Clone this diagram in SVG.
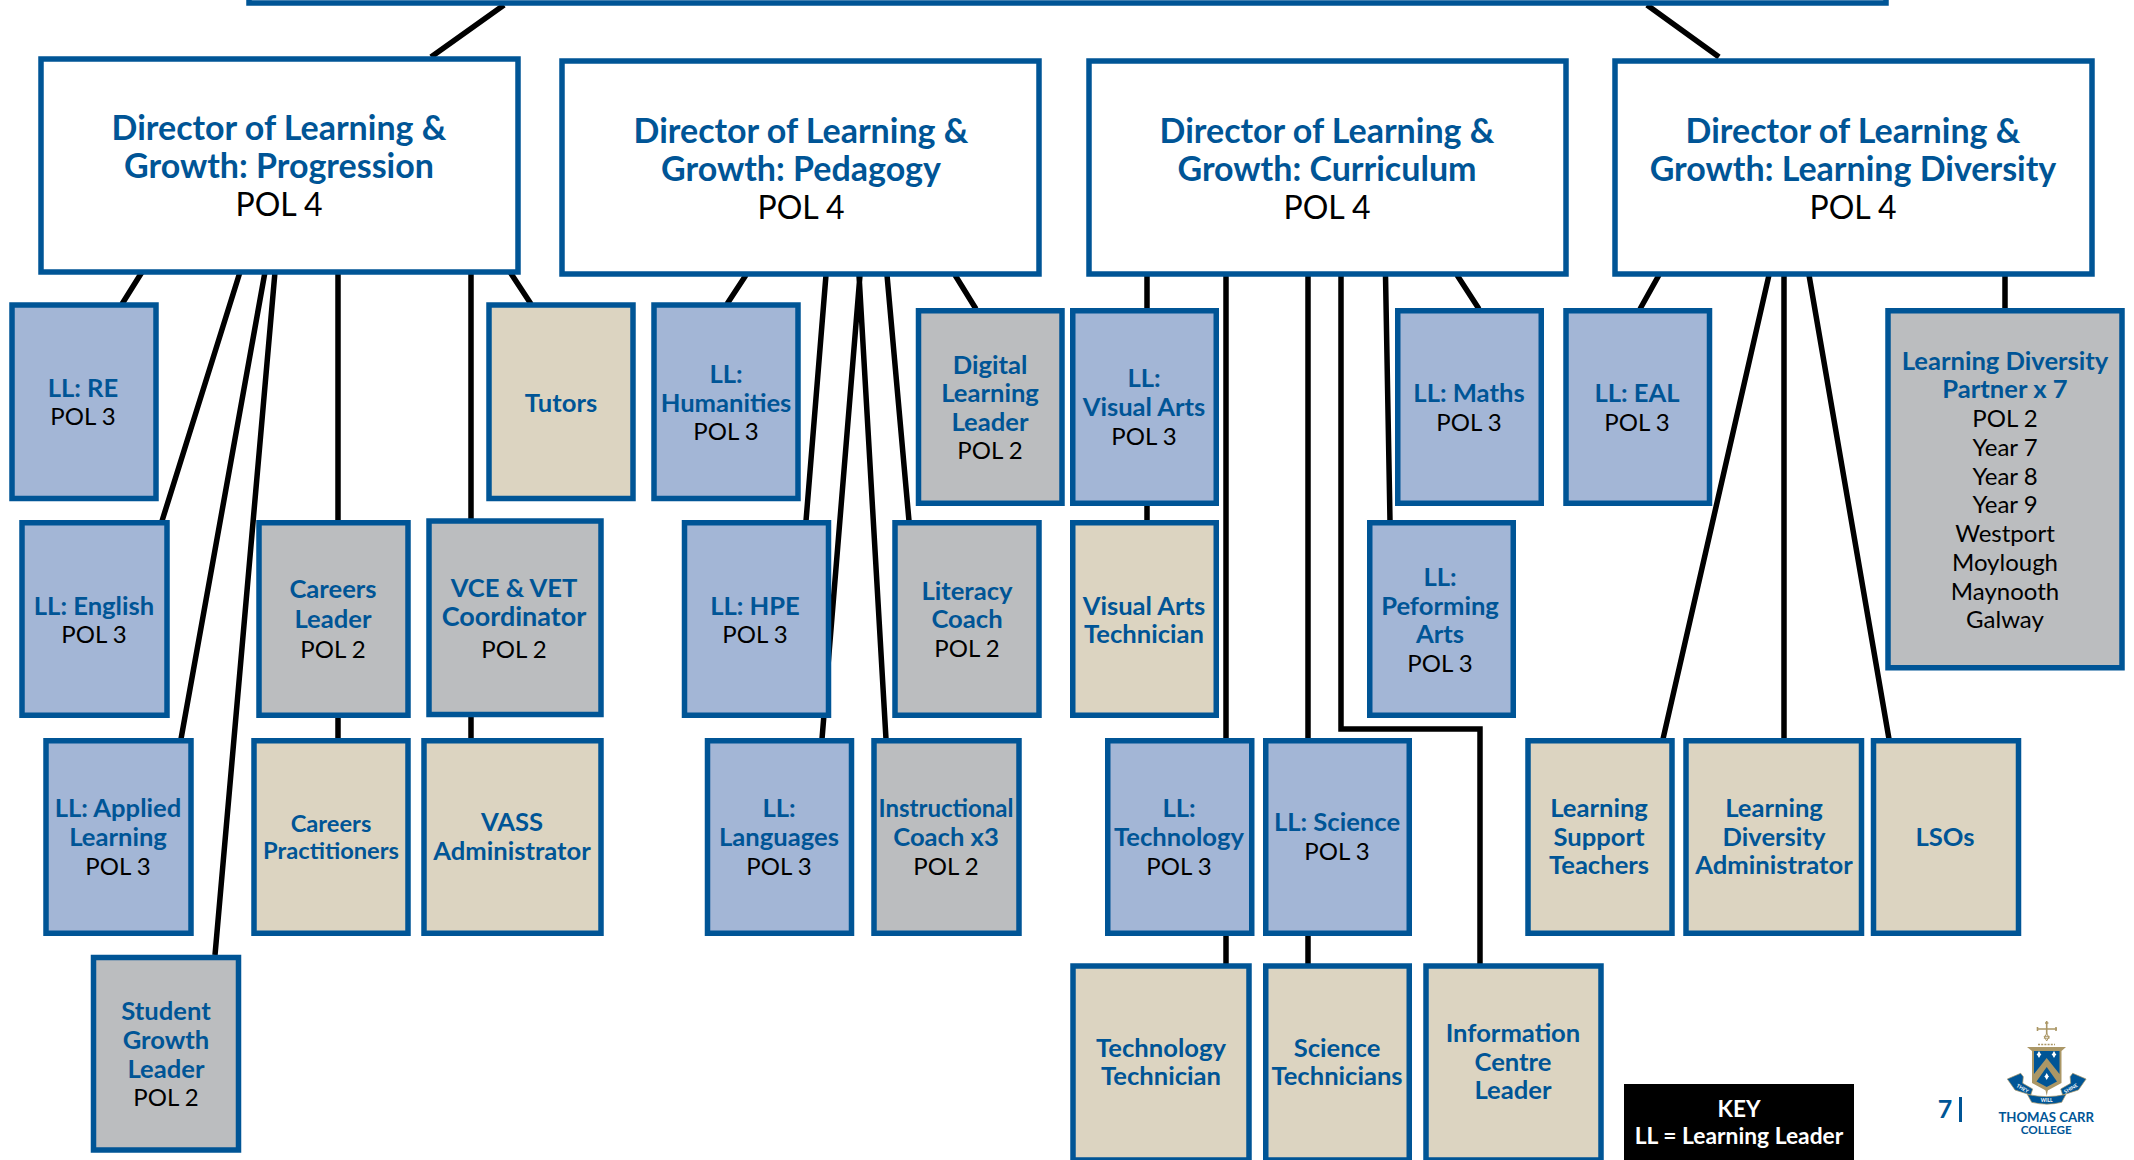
<svg xmlns="http://www.w3.org/2000/svg" width="2134" height="1160" viewBox="0 0 2134 1160">
<style>
text{font-family:Lato,"Noto Sans",sans-serif;text-anchor:middle}
.box{stroke:#005596;stroke-width:5.5}
.w{fill:#fff}.b{fill:#a3b6d6}.t{fill:#dcd4c1}.g{fill:#bbbdbf}
.h{fill:#005596;font-weight:700;font-size:25.6px}
.s{fill:#000;font-size:24px}
.H{fill:#005596;font-weight:700;font-size:34px}
.S{fill:#000;font-size:32px}
.c{fill:none;stroke:#000;stroke-width:5.5}
.gold{fill:#ab9766}
.blue{fill:#005596}
.star{fill:#fff}
</style>
<rect width="2134" height="1160" fill="#fff"/>
<g id="connectors" class="c">
<path d="M504 5L431 57M1647 5L1719 57"/>
<path d="M142 272L122 304M240 272L162 521M265 272L181 739M275 272L215 955M338 272V739M471 272V739M510 272L531 304"/>
<path d="M746 275L727 304M826 275L806 521M860 275L822 739M859 275L886 739M887 275L909 521M955 275L976 309"/>
<path d="M1147 275V521M1226 275V964M1308 275V964M1341 275V729H1480V964M1385.500 275L1390 521M1457 275L1479 309"/>
<path d="M1659 275L1640 309M1769 275L1663 739M1784 275V739M1809 275L1889 739M2005 275V309"/>
</g>
<g id="top"><rect class="box w" x="249" y="-20" width="1637" height="23"/></g>
<g id="dir1"><rect class="box w" x="41" y="59" width="477" height="213"/><text class="H" x="279" y="140">Director of Learning &amp;</text><text class="H" x="279" y="178">Growth: Progression</text><text class="S" x="279" y="216">POL 4</text></g>
<g id="dir2"><rect class="box w" x="562" y="61" width="477" height="213"/><text class="H" x="801" y="143">Director of Learning &amp;</text><text class="H" x="801" y="181">Growth: Pedagogy</text><text class="S" x="801" y="219">POL 4</text></g>
<g id="dir3"><rect class="box w" x="1089" y="61" width="477" height="213"/><text class="H" x="1327" y="143">Director of Learning &amp;</text><text class="H" x="1327" y="181">Growth: Curriculum</text><text class="S" x="1327" y="219">POL 4</text></g>
<g id="dir4"><rect class="box w" x="1615" y="61" width="477" height="213"/><text class="H" x="1853" y="143">Director of Learning &amp;</text><text class="H" x="1853" y="181">Growth: Learning Diversity</text><text class="S" x="1853" y="219">POL 4</text></g>
<g id="ll-re"><rect class="box b" x="12" y="305" width="144" height="193.500"/><text class="h" x="83" y="397">LL: RE</text><text class="s" x="83" y="425">POL 3</text></g>
<g id="tutors"><rect class="box t" x="489" y="305" width="144" height="193.500"/><text class="h" x="561" y="412">Tutors</text></g>
<g id="ll-humanities"><rect class="box b" x="654" y="305" width="144" height="193.500"/><text class="h" x="726" y="383">LL:</text><text class="h" x="726" y="412">Humanities</text><text class="s" x="726" y="440">POL 3</text></g>
<g id="digital"><rect class="box g" x="918.500" y="310.750" width="143.500" height="192.500"/><text class="h" x="990" y="374">Digital</text><text class="h" x="990" y="402">Learning</text><text class="h" x="990" y="431">Leader</text><text class="s" x="990" y="459">POL 2</text></g>
<g id="ll-visual"><rect class="box b" x="1072.750" y="310.750" width="143.500" height="192.500"/><text class="h" x="1144" y="387">LL:</text><text class="h" x="1144" y="416">Visual Arts</text><text class="s" x="1144" y="445">POL 3</text></g>
<g id="ll-maths"><rect class="box b" x="1397.750" y="310.750" width="143.500" height="192.500"/><text class="h" x="1469" y="402">LL: Maths</text><text class="s" x="1469" y="431">POL 3</text></g>
<g id="ll-eal"><rect class="box b" x="1566" y="310.750" width="143.500" height="192.500"/><text class="h" x="1637" y="402">LL: EAL</text><text class="s" x="1637" y="431">POL 3</text></g>
<g id="ld-partner"><rect class="box g" x="1888" y="310.750" width="234" height="357"/><text class="h" x="2005" y="370">Learning Diversity</text><text class="h" x="2005" y="398">Partner x 7</text><text class="s" x="2005" y="427">POL 2</text><text class="s" x="2005" y="456">Year 7</text><text class="s" x="2005" y="485">Year 8</text><text class="s" x="2005" y="513">Year 9</text><text class="s" x="2005" y="542">Westport</text><text class="s" x="2005" y="571">Moylough</text><text class="s" x="2005" y="600">Maynooth</text><text class="s" x="2005" y="628">Galway</text></g>
<g id="ll-english"><rect class="box b" x="22" y="522.750" width="145" height="192.500"/><text class="h" x="94" y="615">LL: English</text><text class="s" x="94" y="643">POL 3</text></g>
<g id="careers-leader"><rect class="box g" x="259" y="522.750" width="149" height="192.500"/><text class="h" x="333" y="598">Careers</text><text class="h" x="333" y="628">Leader</text><text class="s" x="333" y="658">POL 2</text></g>
<g id="vce"><rect class="box g" x="429" y="521" width="172" height="193.500"/><text class="h" x="514" y="597">VCE &amp; VET</text><text class="h" x="514" y="626" style="font-size:27px">Coordinator</text><text class="s" x="514" y="658">POL 2</text></g>
<g id="ll-hpe"><rect class="box b" x="684.500" y="522.750" width="144" height="192.500"/><text class="h" x="755" y="615">LL: HPE</text><text class="s" x="755" y="643">POL 3</text></g>
<g id="literacy"><rect class="box g" x="895" y="522.750" width="144" height="192.500"/><text class="h" x="967" y="600">Literacy</text><text class="h" x="967" y="628">Coach</text><text class="s" x="967" y="657">POL 2</text></g>
<g id="va-tech"><rect class="box t" x="1072.750" y="522.750" width="143.500" height="192.500"/><text class="h" x="1144" y="615">Visual Arts</text><text class="h" x="1144" y="643">Technician</text></g>
<g id="ll-performing"><rect class="box b" x="1369.750" y="522.750" width="143.500" height="192.500"/><text class="h" x="1440" y="586">LL:</text><text class="h" x="1440" y="615">Peforming</text><text class="h" x="1440" y="643">Arts</text><text class="s" x="1440" y="672">POL 3</text></g>
<g id="ll-applied"><rect class="box b" x="46" y="740.750" width="145" height="192.500"/><text class="h" x="118" y="817">LL: Applied</text><text class="h" x="118" y="846">Learning</text><text class="s" x="118" y="875">POL 3</text></g>
<g id="careers-pract"><rect class="box t" x="254" y="740.750" width="154" height="192.500"/><text class="h" x="331" y="832" style="font-size:23.700px">Careers</text><text class="h" x="331" y="859" style="font-size:23.700px">Practitioners</text></g>
<g id="vass"><rect class="box t" x="424" y="740.750" width="177" height="192.500"/><text class="h" x="512" y="831">VASS</text><text class="h" x="512" y="860">Administrator</text></g>
<g id="ll-languages"><rect class="box b" x="707.500" y="740.750" width="144" height="192.500"/><text class="h" x="779" y="817">LL:</text><text class="h" x="779" y="846">Languages</text><text class="s" x="779" y="875">POL 3</text></g>
<g id="instructional"><rect class="box g" x="874" y="740.750" width="145" height="192.500"/><text class="h" x="946" y="817" style="font-size:24px">Instructional</text><text class="h" x="946" y="846">Coach x3</text><text class="s" x="946" y="875">POL 2</text></g>
<g id="ll-technology"><rect class="box b" x="1107.750" y="740.750" width="144" height="192.500"/><text class="h" x="1179" y="817">LL:</text><text class="h" x="1179" y="846">Technology</text><text class="s" x="1179" y="875">POL 3</text></g>
<g id="ll-science"><rect class="box b" x="1265.750" y="740.750" width="143.500" height="192.500"/><text class="h" x="1337" y="831">LL: Science</text><text class="s" x="1337" y="860">POL 3</text></g>
<g id="ls-teachers"><rect class="box t" x="1528" y="740.750" width="144" height="192.500"/><text class="h" x="1599" y="817">Learning</text><text class="h" x="1599" y="846">Support</text><text class="h" x="1599" y="874">Teachers</text></g>
<g id="ld-admin"><rect class="box t" x="1686" y="740.750" width="175.500" height="192.500"/><text class="h" x="1774" y="817">Learning</text><text class="h" x="1774" y="846">Diversity</text><text class="h" x="1774" y="874">Administrator</text></g>
<g id="lsos"><rect class="box t" x="1873.500" y="740.750" width="145" height="192.500"/><text class="h" x="1945" y="846">LSOs</text></g>
<g id="student-growth"><rect class="box g" x="93.500" y="957.500" width="145" height="192.500"/><text class="h" x="166" y="1020">Student</text><text class="h" x="166" y="1049">Growth</text><text class="h" x="166" y="1078">Leader</text><text class="s" x="166" y="1106">POL 2</text></g>
<g id="tech-technician"><rect class="box t" x="1073" y="966" width="176" height="194"/><text class="h" x="1161" y="1057">Technology</text><text class="h" x="1161" y="1085">Technician</text></g>
<g id="sci-technicians"><rect class="box t" x="1265.750" y="966" width="143.500" height="194"/><text class="h" x="1337" y="1057">Science</text><text class="h" x="1337" y="1085">Technicians</text></g>
<g id="ic-leader"><rect class="box t" x="1426" y="966" width="175" height="194"/><text class="h" x="1513" y="1042">Information</text><text class="h" x="1513" y="1071">Centre</text><text class="h" x="1513" y="1099">Leader</text></g>
<g id="key"><rect x="1624" y="1084" width="230" height="76" fill="#000"/><text x="1739" y="1117" fill="#fff" font-weight="700" font-size="22.500">KEY</text><text x="1739" y="1144" fill="#fff" font-weight="700" font-size="22.800">LL = Learning Leader</text></g>
<g id="page"><text x="1945" y="1118" fill="#005596" font-weight="700" font-size="25">7</text><rect x="1959" y="1097" width="3" height="25" fill="#005596"/></g>
<g id="logo">
<path fill="none" stroke="#ab9766" stroke-width="1.600" d="M2046.700 1021V1034M2037 1029H2057M2045 1023h3.400M2037.500 1027v4M2056 1027v4"/>
<path fill="none" stroke="#ab9766" d="M2046.700 1033.500l2.600 4.700h-5.200zM2046.700 1041l-2.600-4.700h5.200z"/>
<path fill="none" stroke="#ab9766" stroke-width="1.500" stroke-dasharray="2 1.200" d="M2038 1044.500h17"/>
<path class="gold" d="M2027 1047H2066L2061.500 1051V1083L2046.700 1091L2032 1083V1051Z"/>
<path class="blue" d="M2034 1051H2059.500V1074L2046.700 1058L2034 1074Z"/>
<path class="blue" d="M2036.500 1081.500L2046.700 1067L2057 1081.500L2046.700 1087Z"/>
<path class="star" d="M2039 1051l2.300 4h-4.600zM2039 1058l-2.300-4h4.600zM2054 1051l2.300 4h-4.600zM2054 1058l-2.300-4h4.600zM2046.700 1073l2.300 4h-4.600zM2046.700 1080l-2.300-4h4.600z"/>
<path class="gold" d="M2045.500 1090h2.400l-1.200 6z"/>
<path class="blue" stroke="#ab9766" stroke-width=".7" d="M2020.700 1073.300L2007.300 1079L2015 1090L2030.700 1095L2032.700 1089L2022.700 1083.300L2023.300 1076.700ZM2072.700 1073.300L2086.100 1079L2078.400 1090L2062.700 1095L2060.700 1089L2070.700 1083.300L2070.100 1076.700ZM2027.300 1094.300Q2046.700 1099 2066 1094.300L2061.700 1102.300Q2046.700 1106 2031.700 1102.300Z"/>
<text x="2046.700" y="1102" fill="#fff" font-size="5" font-weight="700">WILL</text>
<text transform="translate(2021.700 1090) rotate(30)" fill="#fff" font-size="5" font-weight="700">THEY</text>
<text transform="translate(2071.700 1090) rotate(-30)" fill="#fff" font-size="5" font-weight="700">SHINE</text>
<text x="2046.200" y="1122.300" fill="#005596" font-size="13.200" font-weight="700">THOMAS CARR</text>
<text x="2046.200" y="1134" fill="#005596" font-size="11.700" font-weight="700">COLLEGE</text>
</g>
</svg>
